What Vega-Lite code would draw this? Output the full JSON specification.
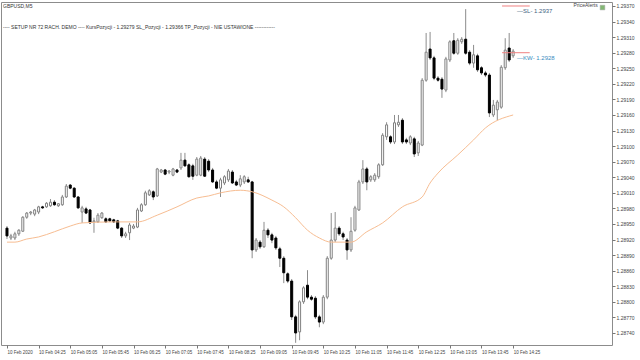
{
"$schema":"https://vega.github.io/schema/vega-lite/v6.json",
"width":611,"height":343,
"padding":{"left":1,"top":2,"right":0,"bottom":0},
"background":"white",
"config":{"view":{"stroke":"#8c8c8c","strokeWidth":1},"font":"Liberation Sans","axis":{"labelOverlap":false,"labelSeparation":0,"labelBound":false}},
"title":{"text":"GBPUSD,M5","subtitle":"---- SETUP NR 72 RACH. DEMO ---- KursPozycji - 1.29279 SL_Pozycji - 1.29366  TP_Pozycji - NIE USTAWIONE ------------","anchor":"start","frame":"group","orient":"top","offset":-28,"dx":2,"fontSize":5,"fontWeight":"normal","color":"#333333","subtitleFontSize":5,"subtitleColor":"#333333","subtitlePadding":16},
"layer":[
{"data":{"values":[
{"t":"2020-02-10T03:45Z","o":1.28942,"h":1.28946,"l":1.28921,"c":1.28927},
{"t":"2020-02-10T03:50Z","o":1.28923,"h":1.28931,"l":1.28919,"c":1.28927},
{"t":"2020-02-10T03:55Z","o":1.28923,"h":1.28935,"l":1.28919,"c":1.28931},
{"t":"2020-02-10T04:00Z","o":1.28931,"h":1.28940,"l":1.28927,"c":1.28938},
{"t":"2020-02-10T04:05Z","o":1.28936,"h":1.28965,"l":1.28935,"c":1.28963},
{"t":"2020-02-10T04:10Z","o":1.28963,"h":1.28973,"l":1.28960,"c":1.28971},
{"t":"2020-02-10T04:15Z","o":1.28971,"h":1.28975,"l":1.28967,"c":1.28973},
{"t":"2020-02-10T04:20Z","o":1.28969,"h":1.28979,"l":1.28965,"c":1.28977},
{"t":"2020-02-10T04:25Z","o":1.28973,"h":1.28985,"l":1.28969,"c":1.28983},
{"t":"2020-02-10T04:30Z","o":1.28983,"h":1.28985,"l":1.28979,"c":1.28981},
{"t":"2020-02-10T04:35Z","o":1.28983,"h":1.28992,"l":1.28981,"c":1.28990},
{"t":"2020-02-10T04:40Z","o":1.28985,"h":1.28998,"l":1.28983,"c":1.28992},
{"t":"2020-02-10T04:45Z","o":1.28992,"h":1.28996,"l":1.28985,"c":1.28987},
{"t":"2020-02-10T04:50Z","o":1.28985,"h":1.28990,"l":1.28983,"c":1.28989},
{"t":"2020-02-10T04:55Z","o":1.28987,"h":1.29006,"l":1.28985,"c":1.29002},
{"t":"2020-02-10T05:00Z","o":1.29002,"h":1.29027,"l":1.29000,"c":1.29023},
{"t":"2020-02-10T05:05Z","o":1.29025,"h":1.29027,"l":1.29017,"c":1.29019},
{"t":"2020-02-10T05:10Z","o":1.29019,"h":1.29021,"l":1.29000,"c":1.29002},
{"t":"2020-02-10T05:15Z","o":1.29002,"h":1.29004,"l":1.28979,"c":1.28981},
{"t":"2020-02-10T05:20Z","o":1.28973,"h":1.28985,"l":1.28952,"c":1.28981},
{"t":"2020-02-10T05:25Z","o":1.28979,"h":1.28983,"l":1.28969,"c":1.28971},
{"t":"2020-02-10T05:30Z","o":1.28977,"h":1.28979,"l":1.28950,"c":1.28952},
{"t":"2020-02-10T05:35Z","o":1.28954,"h":1.28962,"l":1.28933,"c":1.28956},
{"t":"2020-02-10T05:40Z","o":1.28954,"h":1.28971,"l":1.28952,"c":1.28967},
{"t":"2020-02-10T05:45Z","o":1.28962,"h":1.28973,"l":1.28960,"c":1.28971},
{"t":"2020-02-10T05:50Z","o":1.28960,"h":1.28963,"l":1.28952,"c":1.28954},
{"t":"2020-02-10T05:55Z","o":1.28960,"h":1.28962,"l":1.28954,"c":1.28956},
{"t":"2020-02-10T06:00Z","o":1.28958,"h":1.28960,"l":1.28952,"c":1.28954},
{"t":"2020-02-10T06:05Z","o":1.28956,"h":1.28958,"l":1.28940,"c":1.28942},
{"t":"2020-02-10T06:10Z","o":1.28942,"h":1.28944,"l":1.28923,"c":1.28927},
{"t":"2020-02-10T06:15Z","o":1.28927,"h":1.28935,"l":1.28923,"c":1.28931},
{"t":"2020-02-10T06:20Z","o":1.28933,"h":1.28952,"l":1.28919,"c":1.28948},
{"t":"2020-02-10T06:25Z","o":1.28942,"h":1.28950,"l":1.28940,"c":1.28946},
{"t":"2020-02-10T06:30Z","o":1.28944,"h":1.28981,"l":1.28942,"c":1.28977},
{"t":"2020-02-10T06:35Z","o":1.28975,"h":1.28990,"l":1.28973,"c":1.28987},
{"t":"2020-02-10T06:40Z","o":1.28987,"h":1.29014,"l":1.28985,"c":1.29010},
{"t":"2020-02-10T06:45Z","o":1.29006,"h":1.29017,"l":1.29004,"c":1.29014},
{"t":"2020-02-10T06:50Z","o":1.29012,"h":1.29015,"l":1.28996,"c":1.29002},
{"t":"2020-02-10T06:55Z","o":1.29004,"h":1.29058,"l":1.29002,"c":1.29056},
{"t":"2020-02-10T07:00Z","o":1.29050,"h":1.29056,"l":1.29048,"c":1.29054},
{"t":"2020-02-10T07:05Z","o":1.29054,"h":1.29056,"l":1.29044,"c":1.29046},
{"t":"2020-02-10T07:10Z","o":1.29050,"h":1.29054,"l":1.29046,"c":1.29052},
{"t":"2020-02-10T07:15Z","o":1.29044,"h":1.29058,"l":1.29042,"c":1.29056},
{"t":"2020-02-10T07:20Z","o":1.29054,"h":1.29056,"l":1.29048,"c":1.29050},
{"t":"2020-02-10T07:25Z","o":1.29058,"h":1.29087,"l":1.29054,"c":1.29073},
{"t":"2020-02-10T07:30Z","o":1.29073,"h":1.29087,"l":1.29060,"c":1.29062},
{"t":"2020-02-10T07:35Z","o":1.29064,"h":1.29067,"l":1.29039,"c":1.29041},
{"t":"2020-02-10T07:40Z","o":1.29062,"h":1.29066,"l":1.29035,"c":1.29042},
{"t":"2020-02-10T07:45Z","o":1.29044,"h":1.29079,"l":1.29042,"c":1.29075},
{"t":"2020-02-10T07:50Z","o":1.29044,"h":1.29081,"l":1.29042,"c":1.29077},
{"t":"2020-02-10T07:55Z","o":1.29075,"h":1.29079,"l":1.29041,"c":1.29042},
{"t":"2020-02-10T08:00Z","o":1.29071,"h":1.29075,"l":1.29050,"c":1.29054},
{"t":"2020-02-10T08:05Z","o":1.29054,"h":1.29058,"l":1.29029,"c":1.29031},
{"t":"2020-02-10T08:10Z","o":1.29031,"h":1.29035,"l":1.29017,"c":1.29019},
{"t":"2020-02-10T08:15Z","o":1.29019,"h":1.29039,"l":1.29002,"c":1.29035},
{"t":"2020-02-10T08:20Z","o":1.29029,"h":1.29044,"l":1.29025,"c":1.29041},
{"t":"2020-02-10T08:25Z","o":1.29035,"h":1.29056,"l":1.29031,"c":1.29052},
{"t":"2020-02-10T08:30Z","o":1.29050,"h":1.29054,"l":1.29027,"c":1.29029},
{"t":"2020-02-10T08:35Z","o":1.29031,"h":1.29035,"l":1.29023,"c":1.29025},
{"t":"2020-02-10T08:40Z","o":1.29025,"h":1.29044,"l":1.29021,"c":1.29037},
{"t":"2020-02-10T08:45Z","o":1.29031,"h":1.29044,"l":1.29027,"c":1.29041},
{"t":"2020-02-10T08:50Z","o":1.29035,"h":1.29041,"l":1.29029,"c":1.29031},
{"t":"2020-02-10T08:55Z","o":1.29031,"h":1.29033,"l":1.28884,"c":1.28900},
{"t":"2020-02-10T09:00Z","o":1.28900,"h":1.28923,"l":1.28896,"c":1.28919},
{"t":"2020-02-10T09:05Z","o":1.28915,"h":1.28919,"l":1.28902,"c":1.28906},
{"t":"2020-02-10T09:10Z","o":1.28906,"h":1.28954,"l":1.28904,"c":1.28938},
{"t":"2020-02-10T09:15Z","o":1.28938,"h":1.28942,"l":1.28923,"c":1.28929},
{"t":"2020-02-10T09:20Z","o":1.28929,"h":1.28933,"l":1.28913,"c":1.28919},
{"t":"2020-02-10T09:25Z","o":1.28923,"h":1.28927,"l":1.28900,"c":1.28904},
{"t":"2020-02-10T09:30Z","o":1.28902,"h":1.28906,"l":1.28867,"c":1.28884},
{"t":"2020-02-10T09:35Z","o":1.28884,"h":1.28888,"l":1.28836,"c":1.28856},
{"t":"2020-02-10T09:40Z","o":1.28854,"h":1.28857,"l":1.28836,"c":1.28840},
{"t":"2020-02-10T09:45Z","o":1.28840,"h":1.28844,"l":1.28765,"c":1.28771},
{"t":"2020-02-10T09:50Z","o":1.28771,"h":1.28775,"l":1.28721,"c":1.28740},
{"t":"2020-02-10T09:55Z","o":1.28742,"h":1.28803,"l":1.28726,"c":1.28800},
{"t":"2020-02-10T10:00Z","o":1.28800,"h":1.28830,"l":1.28796,"c":1.28827},
{"t":"2020-02-10T10:05Z","o":1.28832,"h":1.28861,"l":1.28805,"c":1.28809},
{"t":"2020-02-10T10:10Z","o":1.28809,"h":1.28813,"l":1.28802,"c":1.28805},
{"t":"2020-02-10T10:15Z","o":1.28807,"h":1.28811,"l":1.28767,"c":1.28771},
{"t":"2020-02-10T10:20Z","o":1.28771,"h":1.28775,"l":1.28751,"c":1.28761},
{"t":"2020-02-10T10:25Z","o":1.28761,"h":1.28813,"l":1.28757,"c":1.28809},
{"t":"2020-02-10T10:30Z","o":1.28809,"h":1.28888,"l":1.28805,"c":1.28884},
{"t":"2020-02-10T10:35Z","o":1.28884,"h":1.28971,"l":1.28881,"c":1.28919},
{"t":"2020-02-10T10:40Z","o":1.28919,"h":1.28973,"l":1.28915,"c":1.28942},
{"t":"2020-02-10T10:45Z","o":1.28942,"h":1.28946,"l":1.28927,"c":1.28931},
{"t":"2020-02-10T10:50Z","o":1.28931,"h":1.28935,"l":1.28919,"c":1.28925},
{"t":"2020-02-10T10:55Z","o":1.28919,"h":1.28923,"l":1.28881,"c":1.28900},
{"t":"2020-02-10T11:00Z","o":1.28900,"h":1.28963,"l":1.28896,"c":1.28936},
{"t":"2020-02-10T11:05Z","o":1.28938,"h":1.28985,"l":1.28935,"c":1.28981},
{"t":"2020-02-10T11:10Z","o":1.28977,"h":1.29035,"l":1.28975,"c":1.29031},
{"t":"2020-02-10T11:15Z","o":1.29031,"h":1.29073,"l":1.29027,"c":1.29056},
{"t":"2020-02-10T11:20Z","o":1.29056,"h":1.29060,"l":1.29015,"c":1.29031},
{"t":"2020-02-10T11:25Z","o":1.29035,"h":1.29044,"l":1.29031,"c":1.29041},
{"t":"2020-02-10T11:30Z","o":1.29035,"h":1.29048,"l":1.29031,"c":1.29044},
{"t":"2020-02-10T11:35Z","o":1.29041,"h":1.29067,"l":1.29037,"c":1.29064},
{"t":"2020-02-10T11:40Z","o":1.29064,"h":1.29125,"l":1.29062,"c":1.29121},
{"t":"2020-02-10T11:45Z","o":1.29118,"h":1.29146,"l":1.29112,"c":1.29141},
{"t":"2020-02-10T11:50Z","o":1.29118,"h":1.29121,"l":1.29104,"c":1.29108},
{"t":"2020-02-10T11:55Z","o":1.29108,"h":1.29160,"l":1.29104,"c":1.29145},
{"t":"2020-02-10T12:00Z","o":1.29141,"h":1.29160,"l":1.29137,"c":1.29146},
{"t":"2020-02-10T12:05Z","o":1.29150,"h":1.29154,"l":1.29104,"c":1.29108},
{"t":"2020-02-10T12:10Z","o":1.29112,"h":1.29116,"l":1.29104,"c":1.29108},
{"t":"2020-02-10T12:15Z","o":1.29106,"h":1.29121,"l":1.29102,"c":1.29118},
{"t":"2020-02-10T12:20Z","o":1.29114,"h":1.29118,"l":1.29079,"c":1.29085},
{"t":"2020-02-10T12:25Z","o":1.29087,"h":1.29110,"l":1.29081,"c":1.29106},
{"t":"2020-02-10T12:30Z","o":1.29102,"h":1.29231,"l":1.29100,"c":1.29227},
{"t":"2020-02-10T12:35Z","o":1.29227,"h":1.29318,"l":1.29224,"c":1.29281},
{"t":"2020-02-10T12:40Z","o":1.29287,"h":1.29320,"l":1.29266,"c":1.29270},
{"t":"2020-02-10T12:45Z","o":1.29270,"h":1.29274,"l":1.29227,"c":1.29231},
{"t":"2020-02-10T12:50Z","o":1.29231,"h":1.29235,"l":1.29224,"c":1.29227},
{"t":"2020-02-10T12:55Z","o":1.29229,"h":1.29233,"l":1.29193,"c":1.29210},
{"t":"2020-02-10T13:00Z","o":1.29208,"h":1.29272,"l":1.29204,"c":1.29268},
{"t":"2020-02-10T13:05Z","o":1.29266,"h":1.29304,"l":1.29262,"c":1.29301},
{"t":"2020-02-10T13:10Z","o":1.29303,"h":1.29318,"l":1.29276,"c":1.29279},
{"t":"2020-02-10T13:15Z","o":1.29279,"h":1.29308,"l":1.29276,"c":1.29304},
{"t":"2020-02-10T13:20Z","o":1.29301,"h":1.29310,"l":1.29297,"c":1.29306},
{"t":"2020-02-10T13:25Z","o":1.29306,"h":1.29364,"l":1.29276,"c":1.29279},
{"t":"2020-02-10T13:30Z","o":1.29281,"h":1.29285,"l":1.29256,"c":1.29260},
{"t":"2020-02-10T13:35Z","o":1.29260,"h":1.29295,"l":1.29251,"c":1.29276},
{"t":"2020-02-10T13:40Z","o":1.29274,"h":1.29278,"l":1.29243,"c":1.29247},
{"t":"2020-02-10T13:45Z","o":1.29251,"h":1.29254,"l":1.29237,"c":1.29241},
{"t":"2020-02-10T13:50Z","o":1.29241,"h":1.29245,"l":1.29233,"c":1.29237},
{"t":"2020-02-10T13:55Z","o":1.29237,"h":1.29241,"l":1.29156,"c":1.29164},
{"t":"2020-02-10T14:00Z","o":1.29160,"h":1.29189,"l":1.29156,"c":1.29179},
{"t":"2020-02-10T14:05Z","o":1.29170,"h":1.29189,"l":1.29150,"c":1.29185},
{"t":"2020-02-10T14:10Z","o":1.29175,"h":1.29256,"l":1.29172,"c":1.29252},
{"t":"2020-02-10T14:15Z","o":1.29251,"h":1.29308,"l":1.29247,"c":1.29285},
{"t":"2020-02-10T14:20Z","o":1.29289,"h":1.29318,"l":1.29262,"c":1.29266},
{"t":"2020-02-10T14:25Z","o":1.29274,"h":1.29287,"l":1.29270,"c":1.29283}
]},
"layer":[
{"mark":{"type":"rule","color":"#8c8c8c","strokeWidth":1},
"encoding":{
"x":{"field":"t","type":"temporal","title":null,"scale":{"type":"utc","domain":[1581306225400,1581351822000]},
"axis":{"orient":"bottom","tickCount":100,"values":[1581306300000,1581308700000,1581311100000,1581313500000,1581315900000,1581318300000,1581320700000,1581323100000,1581325500000,1581327900000,1581330300000,1581332700000,1581335100000,1581337500000,1581339900000,1581342300000,1581344700000],
"labelExpr":"utcFormat(datum.value, '%H:%M') == '03:45' ? '10 Feb 2020' : utcFormat(datum.value, '%d %b %H:%M')",
"domain":false,"grid":false,"tickSize":3,"tickColor":"#777777","labelAlign":"left","labelBaseline":"top","labelDx":1,"labelPadding":1,"labelFontSize":4.5,"labelColor":"#444444","labelFlush":false,"labelOverlap":false,"labelSeparation":0,"labelFont":"Liberation Sans"}},
"y":{"field":"l","type":"quantitative","title":null,"scale":{"domain":[1.287168,1.293777],"zero":false,"nice":false},
"axis":{"orient":"right","tickCount":100,"values":[1.2874,1.2877,1.288,1.2883,1.2886,1.2889,1.2892,1.2895,1.2898,1.2901,1.2904,1.2907,1.291,1.2913,1.2916,1.2919,1.2922,1.2925,1.2928,1.2931,1.2934,1.2937],"format":".5f","domain":false,"grid":false,"tickSize":3,"tickColor":"#777777","labelPadding":1,"labelFontSize":5,"labelColor":"#444444","labelFont":"Liberation Sans","labelOverlap":false,"labelSeparation":0,"labelBaseline":"middle"}},
"y2":{"field":"h"}}},
{"mark":{"type":"bar","width":2,"strokeWidth":1},
"encoding":{
"x":{"field":"t","type":"temporal","title":null,"scale":{"type":"utc","domain":[1581306225400,1581351822000]}},
"y":{"field":"o","type":"quantitative","title":null,"scale":{"domain":[1.287168,1.293777],"zero":false,"nice":false}},
"y2":{"field":"c"},
"fill":{"condition":{"test":"datum.c >= datum.o","value":"#ffffff"},"value":"#000000"},
"stroke":{"condition":{"test":"datum.c >= datum.o","value":"#808080"},"value":"#000000"}}}
]},
{"data":{"values":[
{"t":"2020-02-10T03:45Z","v":1.28915},{"t":"2020-02-10T03:55Z","v":1.28915},{"t":"2020-02-10T04:10Z","v":1.28921},{"t":"2020-02-10T04:25Z","v":1.28925},{"t":"2020-02-10T04:45Z","v":1.28935},{"t":"2020-02-10T05:05Z","v":1.28946},{"t":"2020-02-10T05:20Z","v":1.28952},{"t":"2020-02-10T06:00Z","v":1.28954},{"t":"2020-02-10T06:30Z","v":1.28954},{"t":"2020-02-10T06:55Z","v":1.28967},{"t":"2020-02-10T07:20Z","v":1.28983},{"t":"2020-02-10T07:45Z","v":1.29000},{"t":"2020-02-10T08:00Z","v":1.29004},{"t":"2020-02-10T08:15Z","v":1.29010},{"t":"2020-02-10T08:40Z","v":1.29015},{"t":"2020-02-10T08:55Z","v":1.29012},{"t":"2020-02-10T09:20Z","v":1.28996},{"t":"2020-02-10T09:35Z","v":1.28983},{"t":"2020-02-10T09:50Z","v":1.28962},{"t":"2020-02-10T10:05Z","v":1.28938},{"t":"2020-02-10T10:20Z","v":1.28923},{"t":"2020-02-10T10:35Z","v":1.28915},{"t":"2020-02-10T11:00Z","v":1.28915},{"t":"2020-02-10T11:20Z","v":1.28935},{"t":"2020-02-10T11:40Z","v":1.28952},{"t":"2020-02-10T12:05Z","v":1.28983},{"t":"2020-02-10T12:30Z","v":1.29002},{"t":"2020-02-10T12:40Z","v":1.29029},{"t":"2020-02-10T12:50Z","v":1.29048},{"t":"2020-02-10T13:15Z","v":1.29083},{"t":"2020-02-10T13:35Z","v":1.29112},{"t":"2020-02-10T13:50Z","v":1.29135},{"t":"2020-02-10T14:25Z","v":1.29160}
]},
"mark":{"type":"line","color":"#f7bd92","strokeWidth":1,"interpolate":"monotone"},
"encoding":{
"x":{"field":"t","type":"temporal","title":null,"scale":{"type":"utc","domain":[1581306225400,1581351822000]}},
"y":{"field":"v","type":"quantitative","title":null,"scale":{"domain":[1.287168,1.293777],"zero":false,"nice":false}}}},
{"data":{"values":[
{"name":"SL","p":1.2937,"t1":"2020-02-10T14:11Z","t2":"2020-02-10T14:46Z","ta":"2020-02-10T14:30Z","label":"—SL- 1.2937"},
{"name":"KW","p":1.2928,"t1":"2020-02-10T14:11Z","t2":"2020-02-10T14:46Z","ta":"2020-02-10T14:30Z","label":"—KW- 1.2928"}
]},
"layer":[
{"mark":{"type":"rule","color":"#f08080","strokeWidth":1},
"encoding":{
"x":{"field":"t1","type":"temporal","title":null,"scale":{"type":"utc","domain":[1581306225400,1581351822000]}},
"x2":{"field":"t2"},
"y":{"field":"p","type":"quantitative","title":null,"scale":{"domain":[1.287168,1.293777],"zero":false,"nice":false}}}},
{"mark":{"type":"text","align":"left","baseline":"top","dy":2,"fontSize":6,"font":"Liberation Sans"},
"encoding":{
"x":{"field":"ta","type":"temporal","title":null,"scale":{"type":"utc","domain":[1581306225400,1581351822000]}},
"y":{"field":"p","type":"quantitative","title":null,"scale":{"domain":[1.287168,1.293777],"zero":false,"nice":false}},
"text":{"field":"label"},
"color":{"field":"name","type":"nominal","scale":{"domain":["SL","KW"],"range":["#3f5f7f","#3a8cc0"]},"legend":null}}}
]},
{"data":{"values":[{"label":"PriceAlerts"}]},
"layer":[
{"mark":{"type":"text","align":"right","baseline":"middle","fontSize":5,"color":"#444444","font":"Liberation Sans"},
"encoding":{
"x":{"datum":{"year":2020,"month":2,"date":10,"hours":16,"minutes":12,"utc":true},"type":"temporal","scale":{"type":"utc","domain":[1581306225400,1581351822000]}},
"y":{"datum":1.29372,"type":"quantitative","scale":{"domain":[1.287168,1.293777],"zero":false,"nice":false}},
"text":{"field":"label"}}},
{"mark":{"type":"square","filled":true,"size":22,"color":"#4f9a3a","stroke":"#888888","strokeWidth":0.5},
"encoding":{
"x":{"datum":{"year":2020,"month":2,"date":10,"hours":16,"minutes":18,"utc":true},"type":"temporal","scale":{"type":"utc","domain":[1581306225400,1581351822000]}},
"y":{"datum":1.29367,"type":"quantitative","scale":{"domain":[1.287168,1.293777],"zero":false,"nice":false}}}}
]}
]
}
